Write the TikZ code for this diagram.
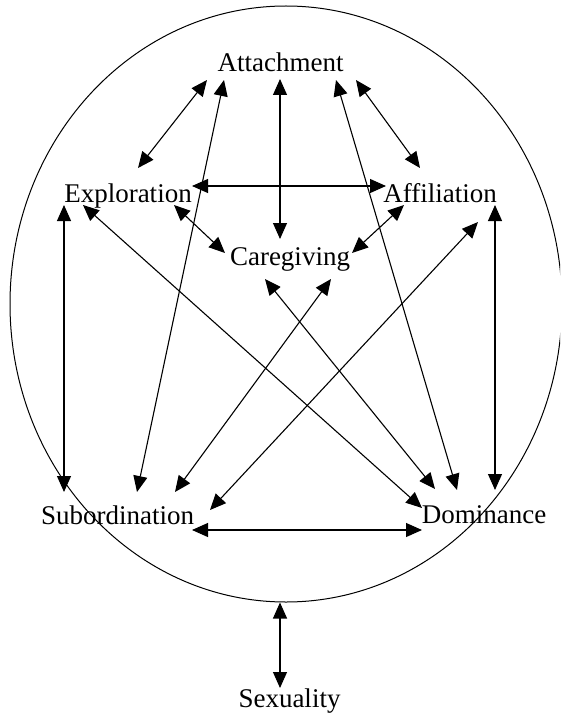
\documentclass[tikz,border=0pt]{standalone}
\usepackage{fontspec}
\setmainfont{Liberation Serif}
\usetikzlibrary{arrows.meta,shapes.geometric}
\tikzset{
  lbl/.style={inner sep=0pt, anchor=base, font=\fontsize{27}{30}\selectfont},
  biarrow/.style={line width=1.1pt, arrows={Triangle[length=16pt,width=14pt]-Triangle[length=16pt,width=14pt]}},
  ringstyle/.style={ellipse, draw, line width=1pt, inner sep=0pt, minimum width=552pt, minimum height=596pt}
}
\begin{document}
\begin{tikzpicture}[x=1pt,y=-1pt]
\clip (0,0) rectangle (560,714);
\fill[white] (0,0) rectangle (560,714);
\node[ringstyle] (ring) at (286,304) {};
\node[lbl] (att) at (280.5,72) {Attachment};
\node[lbl] (exp) at (128,202) {Exploration};
\node[lbl] (aff) at (440,202) {Affiliation};
\node[lbl] (care) at (290,265) {Caregiving};
\node[lbl] (sub) at (117.5,524) {Subordination};
\node[lbl] (dom) at (484,523) {Dominance};
\node[lbl] (sex) at (289.5,707) {Sexuality};
% from Attachment
\draw[biarrow] ([shift={(-73.5,8)}]att.base) -- ([shift={(10,-34)}]exp.base);
\draw[biarrow] ([shift={(-56.5,8)}]att.base) -- ([shift={(19.5,-32)}]sub.base);
\draw[biarrow] ([shift={(-0.5,7)}]att.base) -- ([shift={(-10,-26)}]care.base);
\draw[biarrow] ([shift={(55.5,8)}]att.base) -- ([shift={(-27,-33)}]dom.base);
\draw[biarrow] ([shift={(75.5,8)}]att.base) -- ([shift={(-20,-34)}]aff.base);
% from Exploration
\draw[biarrow] ([shift={(64,-16)}]exp.base) -- ([shift={(-54,-16)}]aff.base);
\draw[biarrow] ([shift={(46,3)}]exp.base) -- ([shift={(-65,-12)}]care.base);
\draw[biarrow] ([shift={(-45,3)}]exp.base) -- ([shift={(-62,-15)}]dom.base);
\draw[biarrow] ([shift={(-64,3)}]exp.base) -- ([shift={(-53.5,-32)}]sub.base);
% from Affiliation
\draw[biarrow] ([shift={(-36,3)}]aff.base) -- ([shift={(62,-12)}]care.base);
\draw[biarrow] ([shift={(55,3)}]aff.base) -- ([shift={(11,-33)}]dom.base);
\draw[biarrow] ([shift={(38,20)}]aff.base) -- ([shift={(92.5,-14)}]sub.base);
% from Caregiving
\draw[biarrow] ([shift={(41,14)}]care.base) -- ([shift={(57.5,-32)}]sub.base);
\draw[biarrow] ([shift={(-25,14)}]care.base) -- ([shift={(-49,-34)}]dom.base);
% bottom
\draw[biarrow] ([shift={(74.5,6)}]sub.base) -- ([shift={(-62,7)}]dom.base);
\draw[biarrow] ([shift={(-6,0)}]ring.south) -- ([shift={(-9.5,-19)}]sex.base);
\end{tikzpicture}
\end{document}
